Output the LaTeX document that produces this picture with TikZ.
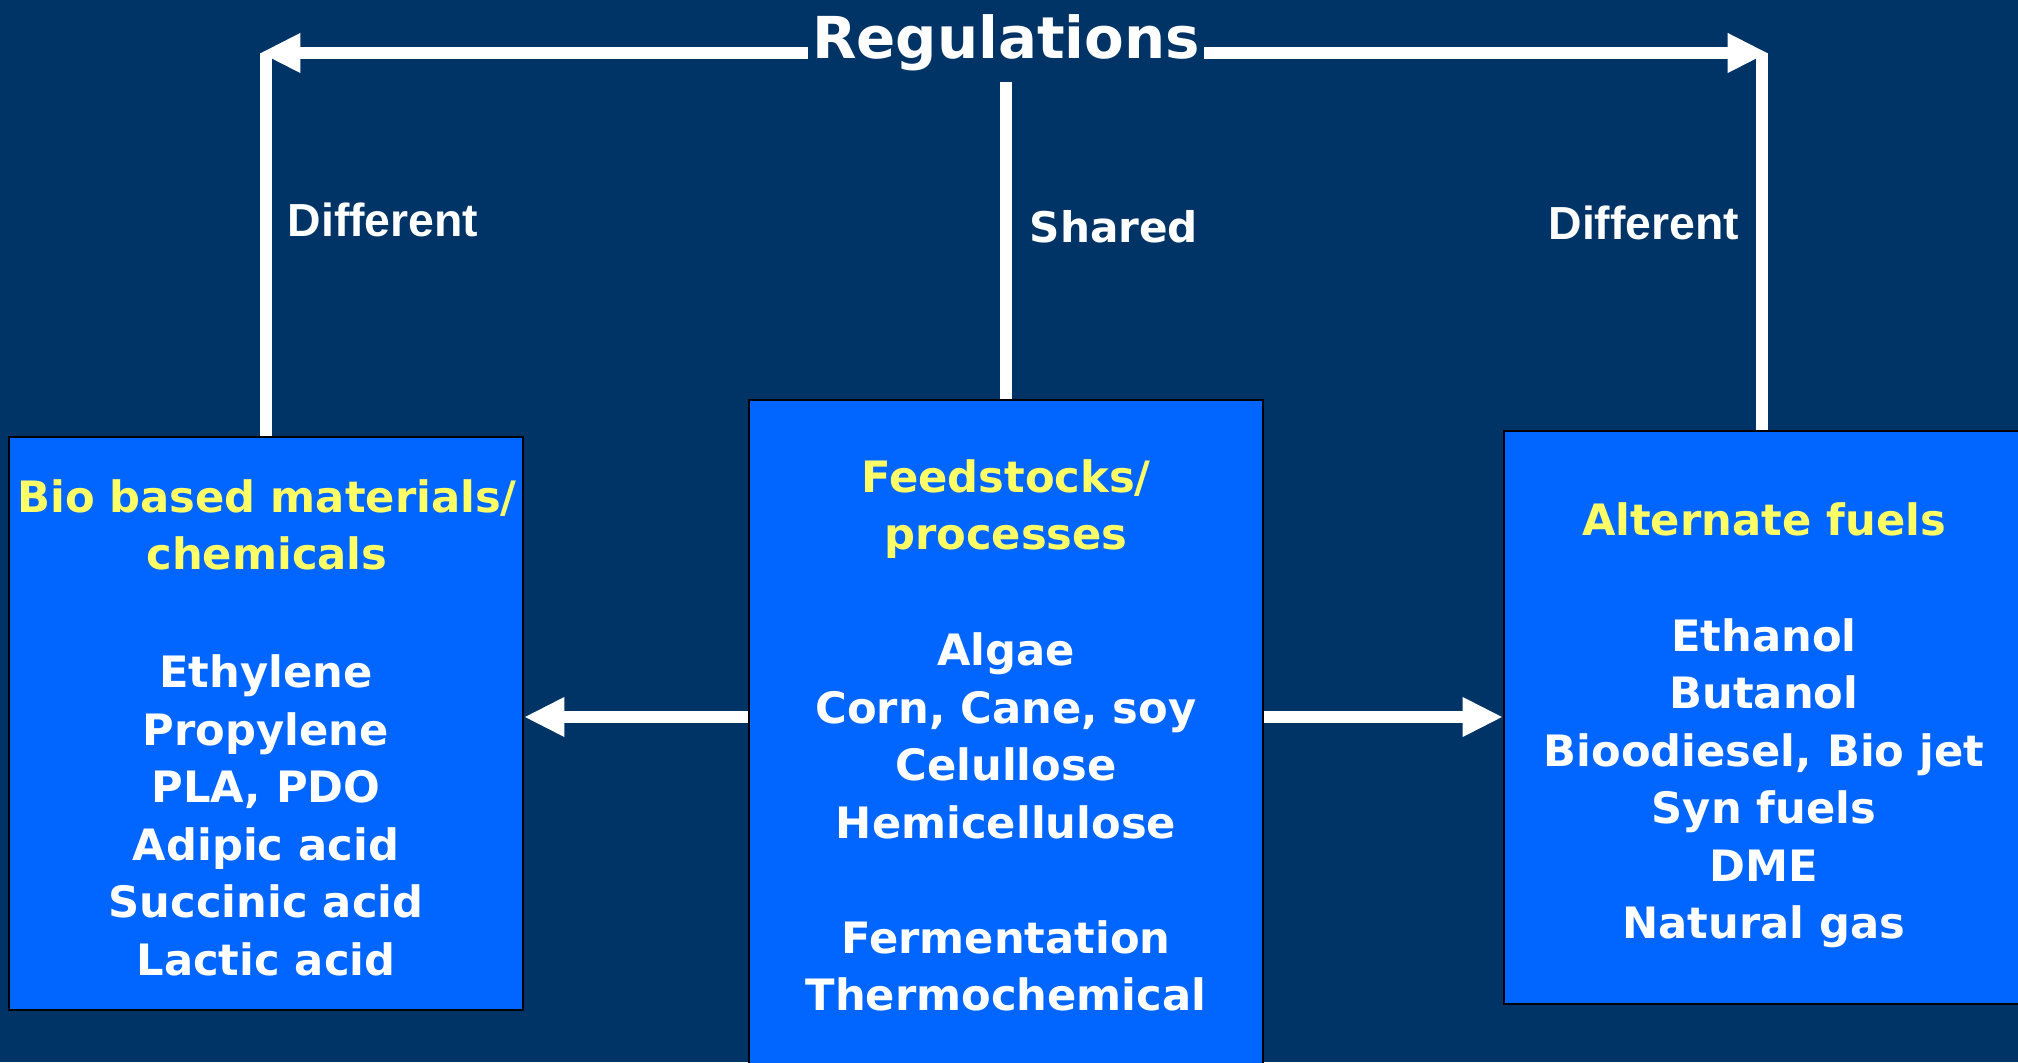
\documentclass[tikz,border=0pt]{standalone}
\usepackage{fontspec}
\setmainfont{DejaVu Sans}
\newfontfamily\arialfont{Liberation Sans}
\usetikzlibrary{arrows.meta}
\definecolor{navy}{RGB}{0,51,102}
\definecolor{boxblue}{RGB}{0,102,255}
\definecolor{headyellow}{RGB}{255,255,102}
\tikzset{
    panel/.style={draw=black,line width=0.6pt,fill=boxblue,minimum width=5.14cm,inner sep=0pt},
    head/.style={text=headyellow,font=\bfseries\fontsize{12.3}{16.3}\selectfont,align=center,anchor=base,inner sep=0pt},
    items/.style={text=white,font=\bfseries\fontsize{12.3}{16.36}\selectfont,align=center,anchor=base,inner sep=0pt},
    link/.style={white,line width=3.4pt},
    flow/.style={link,-{Triangle[length=11.5pt,width=10.5pt]}},
    tag/.style={text=white,inner sep=0pt}
}
\begin{document}
\begin{tikzpicture}
    \useasboundingbox (0,0) rectangle (20.18,10.62);
    \clip (0,0) rectangle (20.18,10.62);
    \fill[navy] (0,0) rectangle (20.18,10.62);
    \node[panel,minimum height=5.73cm] (bio) at (2.66,3.385) {};
    \node[panel,minimum height=6.92cm] (cen) at (10.06,3.16) {};
    \node[panel,minimum height=5.73cm,minimum width=5.16cm] (alt) at (17.62,3.445) {};
    \node[head] (biohead) at (2.67,4.92) {Bio based materials/\\chemicals};
    \node[items] (biolist) at (2.66,0.87) {Ethylene\\Propylene\\PLA, PDO\\Adipic acid\\Succinic acid\\Lactic acid};
    \node[head] (cenhead) at (10.06,5.12) {Feedstocks/\\processes};
    \node[items] (cenlist) at (10.06,0.514) {Algae\\Corn, Cane, soy\\Celullose\\Hemicellulose\\[16.36pt]Fermentation\\Thermochemical};
    \node[head] (althead) at (17.64,5.26) {Alternate fuels};
    \node[items] (altlist) at (17.64,1.235) {Ethanol\\Butanol\\Bioodiesel, Bio jet\\Syn fuels\\DME\\Natural gas};
    \node[tag,font=\bfseries\fontsize{16.45}{20}\selectfont,text height=7pt,text depth=3.6pt,inner xsep=1pt] (reg) at (10.06,10.09) {Regulations};
    \coordinate (cl) at (2.60,10.09);
    \coordinate (cr) at (17.68,10.09);
    \coordinate (regfoot) at (10.06,9.80);
    \coordinate (mid) at (10.06,3.45);
    \draw[flow] (reg.west) -- (cl);
    \draw[flow] (reg.east) -- (cr);
    \draw[link] (bio.north) -- (bio.north |- reg.west);
    \draw[link] (alt.north) -- (alt.north |- reg.east);
    \draw[link] (cen.north) -- (regfoot);
    \draw[flow] (mid -| cen.west) -- (mid -| bio.east);
    \draw[flow] (mid -| cen.east) -- (mid -| alt.west);
    \node[tag,font=\arialfont\bfseries\fontsize{13.2}{15}\selectfont,anchor=base west] (difleft) at (2.87,8.25) {Different};
    \node[tag,font=\bfseries\fontsize{12}{14}\selectfont,anchor=base west] (shared) at (10.29,8.19) {Shared};
    \node[tag,font=\arialfont\bfseries\fontsize{13.2}{15}\selectfont,anchor=base east] (difright) at (17.40,8.22) {Different};
\end{tikzpicture}
\end{document}
